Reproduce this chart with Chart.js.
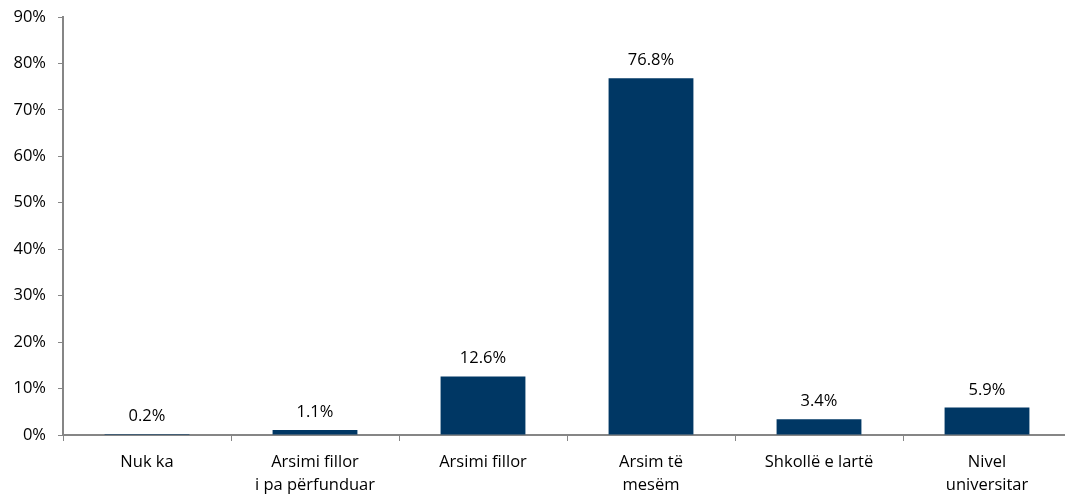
<!DOCTYPE html>
<html>
<head>
<meta charset="utf-8">
<script src="https://cdn.jsdelivr.net/npm/chart.js@4/dist/chart.umd.min.js"></script>
<style>
html,body{margin:0;padding:0;background:#fff;overflow:hidden;}
#wrap{width:1071px;height:500px;position:relative;}
</style>
</head>
<body>
<div id="wrap"><canvas id="c"></canvas></div>
<script>
const categories = [
  ["Nuk ka"],
  ["Arsimi fillor", "i pa përfunduar"],
  ["Arsimi fillor"],
  ["Arsim të", "mesëm"],
  ["Shkollë e lartë"],
  ["Nivel", "universitar"]
];
const values = [0.2, 1.1, 12.6, 76.8, 3.4, 5.9];
const yTicks = [0, 10, 20, 30, 40, 50, 60, 70, 80, 90];

const FONT = "'Open Sans', 'Liberation Sans', sans-serif";

const labelPlugin = {
  id: 'barLabels',
  afterDatasetsDraw(chart) {
    const ctx = chart.ctx;
    const meta = chart.getDatasetMeta(0);
    ctx.save();
    ctx.font = "16.5px " + FONT;
    ctx.fillStyle = "#000";
    ctx.textAlign = "center";
    ctx.textBaseline = "alphabetic";
    meta.data.forEach((bar, i) => {
      const top = Math.min(bar.y, chart.scales.y.getPixelForValue(0) - 1);
      ctx.fillText(values[i].toFixed(1) + "%", bar.x, top - 13);
    });
    ctx.restore();
  }
};

new Chart(document.getElementById('c'), {
  type: 'bar',
  data: {
    labels: categories,
    datasets: [{
      data: values,
      backgroundColor: '#003764',
      borderWidth: 0,
      barPercentage: 0.505,
      categoryPercentage: 1.0
    }]
  },
  options: {
    responsive: true,
    maintainAspectRatio: false,
    animation: false,
    layout: { padding: { top: 17, right: 0, left: 0, bottom: 0 } },
    plugins: { legend: { display: false }, tooltip: { enabled: false } },
    scales: {
      x: {
        grid: {
          offset: true,
          drawOnChartArea: false,
          drawTicks: true,
          tickLength: 6,
          color: '#868686',
          lineWidth: 1
        },
        border: { color: '#868686', width: 2 },
        ticks: {
          color: '#000',
          font: { family: FONT, size: 16.5, lineHeight: 1.4 },
          padding: 10,
          maxRotation: 0,
          autoSkip: false
        },
        afterFit(scale) { scale.height = 65; scale.paddingLeft = 0; scale.paddingRight = 0; }
      },
      y: {
        min: 0,
        max: 90,
        afterBuildTicks(scale) { scale.ticks = yTicks.map(v => ({ value: v })); },
        grid: {
          drawOnChartArea: false,
          drawTicks: true,
          tickLength: 5,
          color: '#868686',
          lineWidth: 1
        },
        border: { color: '#868686', width: 2 },
        ticks: {
          color: '#000',
          font: { family: FONT, size: 16.5 },
          padding: 12,
          callback: v => v + '%'
        },
        afterFit(scale) { scale.width = 63; scale.paddingTop = 0; scale.paddingBottom = 0; }
      }
    }
  },
  plugins: [labelPlugin]
});
</script>
</body>
</html>
